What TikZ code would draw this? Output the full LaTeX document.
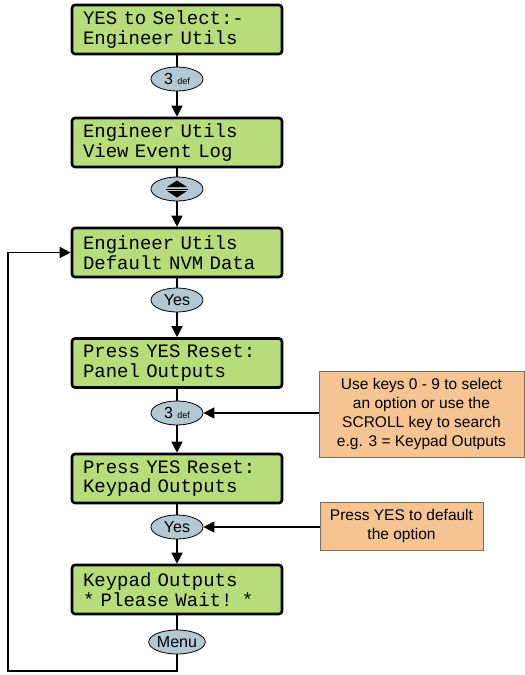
\documentclass[tikz,border=0pt]{standalone}
\usepackage{fontspec}
\setmainfont{Liberation Sans}
\newfontfamily\lcdfont{Liberation Mono}
\usetikzlibrary{arrows.meta,shapes.geometric}
\definecolor{lcdgreen}{RGB}{183,220,122}
\definecolor{notebg}{RGB}{246,196,146}
\definecolor{keyblue}{RGB}{180,200,212}
\definecolor{notebd}{RGB}{120,110,100}
\tikzset{
  lcd/.style={draw=black, line width=2.6pt, rounded corners=3pt, fill=lcdgreen,
    text width=188pt, inner xsep=11pt, inner ysep=2pt, minimum height=49pt, align=left,
    font=\lcdfont\fontsize{19}{19.5}\selectfont},
  key/.style={ellipse, draw=black, line width=0.8pt, fill=keyblue, minimum width=52pt,
    minimum height=24pt, inner sep=0pt, font=\fontsize{16}{16}\selectfont},
  note/.style={draw=notebd, line width=0.8pt, fill=notebg, align=center, inner sep=0pt,
    font=\fontsize{15.5}{19}\selectfont},
  conn/.style={line width=1.4pt},
  arr/.style={line width=1.4pt, -{Triangle[length=11pt,width=11pt]}}
}
\begin{document}
\begin{tikzpicture}[x=1pt,y=-1pt]
\useasboundingbox (0,0) rectangle (525,675);
\node[lcd] (b1) at (177,29.5) {YES to Select:-\\Engineer Utils};
\node[lcd] (b2) at (177,142.5) {Engineer Utils\\View Event Log};
\node[lcd] (b3) at (177,252.5) {Engineer Utils\\Default NVM Data};
\node[lcd] (b4) at (177,363) {Press YES Reset:\\Panel Outputs};
\node[lcd] (b5) at (177,478.5) {Press YES Reset:\\Keypad Outputs};
\node[lcd] (b6) at (177,589.5) {Keypad Outputs\\\relax* Please Wait! *};

\node[key] (k1) at (177,79) {3 {\fontsize{9}{9}\selectfont def}};
\node[key] (k2) at (177,189) {};
\node[key] (k3) at (177,300) {Yes};
\node[key] (k4) at (177,413) {3 {\fontsize{9}{9}\selectfont def}};
\node[key] (k5) at (177,527) {Yes};
\node[key] (k6) at (177,642) {Menu};

% scroll icon
\fill (167,187) -- (187,187) -- (177,180.5) -- cycle;
\draw[line width=0.9pt] (166,189) -- (188,189);
\fill (167,191) -- (187,191) -- (177,197.5) -- cycle;

\node[note, minimum width=205pt, minimum height=86pt] (n1) at (421.5,414)
  {Use keys 0 - 9 to select\\an option or use the\\SCROLL key to search\\e.g. 3 = Keypad Outputs};
\node[note, minimum width=163pt, minimum height=48pt] (n2) at (401.5,526)
  {Press YES to default\\the option};

\draw[conn] (b1) -- (k1);
\draw[arr] (k1) -- (b2);
\draw[conn] (b2) -- (k2);
\draw[arr] (k2) -- (b3);
\draw[conn] (b3) -- (k3);
\draw[arr] (k3) -- (b4);
\draw[conn] (b4) -- (k4);
\draw[arr] (k4) -- (b5);
\draw[conn] (b5) -- (k5);
\draw[arr] (k5) -- (b6);
\draw[conn] (b6) -- (k6);

\coordinate (c1) at (177,671);
\coordinate (c2) at (8,671);
\coordinate (c3) at (8,252.5);
\draw[arr] (k6.south) -- (c1) -- (c2) -- (c3) -- (b3.west);

\draw[arr] (n1.west |- k4) -- (k4.east);
\draw[arr] (n2.west |- k5) -- (k5.east);
\end{tikzpicture}
\end{document}
